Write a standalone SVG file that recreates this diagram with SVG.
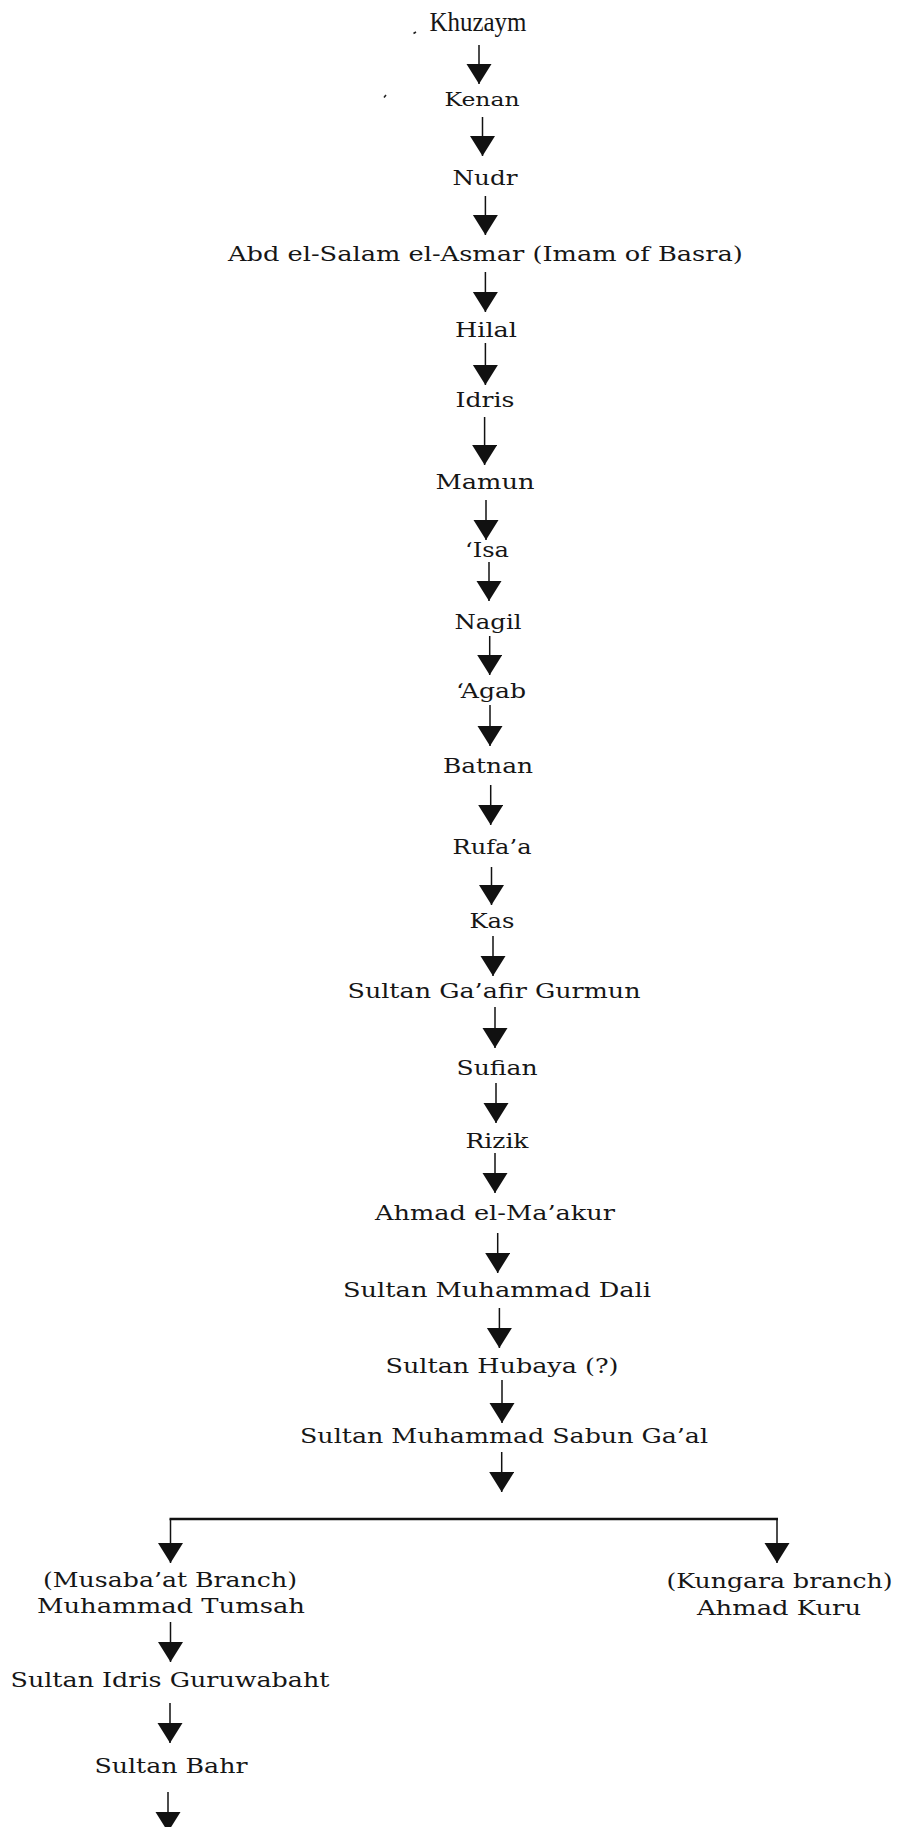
<svg xmlns="http://www.w3.org/2000/svg" width="897" height="1827" viewBox="0 0 897 1827">
<style>
.t{font-family:"DejaVu Serif","Liberation Serif",serif;font-size:21px;fill:#161616;text-anchor:middle}
.k{font-family:"Liberation Serif",serif;font-size:28px;fill:#161616;text-anchor:middle}
.c line{stroke:#111;stroke-width:1.5}
.c line.a{marker-end:url(#ah)}
</style>
<defs>
<marker id="ah" markerUnits="userSpaceOnUse" markerWidth="21" markerHeight="26" refX="20" refY="12.5" orient="auto">
<path d="M0,0 L20,12.5 L0,25 z" fill="#111"/>
</marker>
</defs>
<rect width="897" height="1827" fill="#fff"/>
<g id="connectors" class="c">
<line class="a" x1="479" y1="45" x2="479" y2="84"/>
<line class="a" x1="482.5" y1="117" x2="482.5" y2="156"/>
<line class="a" x1="485.4" y1="196" x2="485.4" y2="235"/>
<line class="a" x1="485.4" y1="272" x2="485.4" y2="312"/>
<line class="a" x1="485.4" y1="343" x2="485.4" y2="385"/>
<line class="a" x1="484.6" y1="417" x2="484.6" y2="465"/>
<line class="a" x1="486" y1="500" x2="486" y2="540"/>
<line class="a" x1="489" y1="562" x2="489" y2="601"/>
<line class="a" x1="489.7" y1="636" x2="489.7" y2="675"/>
<line class="a" x1="490" y1="705" x2="490" y2="746"/>
<line class="a" x1="490.7" y1="785" x2="490.7" y2="825"/>
<line class="a" x1="491.5" y1="867" x2="491.5" y2="905"/>
<line class="a" x1="493" y1="936" x2="493" y2="976"/>
<line class="a" x1="495" y1="1007" x2="495" y2="1048"/>
<line class="a" x1="496" y1="1083" x2="496" y2="1123"/>
<line class="a" x1="495" y1="1153" x2="495" y2="1193"/>
<line class="a" x1="497.7" y1="1233" x2="497.7" y2="1273"/>
<line class="a" x1="499.4" y1="1308" x2="499.4" y2="1348"/>
<line class="a" x1="502" y1="1380" x2="502" y2="1423"/>
<line class="a" x1="501.7" y1="1452" x2="501.7" y2="1492"/>
<line x1="169.5" y1="1519" x2="778" y2="1519" style="stroke-width:2.5"/>
<line class="a" x1="170.5" y1="1519" x2="170.5" y2="1563"/>
<line class="a" x1="777" y1="1519" x2="777" y2="1563"/>
<line class="a" x1="170.5" y1="1622" x2="170.5" y2="1662"/>
<line class="a" x1="170" y1="1703" x2="170" y2="1743"/>
<line class="a" x1="168" y1="1792" x2="168" y2="1832"/>
</g>
<path d="M413.5,33.5 l2.5,-1.5 M384,97.5 l2,-2.5" stroke="#222" stroke-width="1.6" fill="none"/>
<g id="n-khuzaym"><text class="k" x="478" y="31" textLength="97" lengthAdjust="spacingAndGlyphs">Khuzaym</text></g>
<g id="n-kenan"><text class="t" x="482" y="106" style="font-size:18.5px" textLength="75" lengthAdjust="spacingAndGlyphs">Kenan</text></g>
<g id="n-nudr"><text class="t" x="485" y="185" textLength="65" lengthAdjust="spacingAndGlyphs">Nudr</text></g>
<g id="n-abd"><text class="t" x="485.4" y="261" textLength="515" lengthAdjust="spacingAndGlyphs">Abd el-Salam el-Asmar (Imam of Basra)</text></g>
<g id="n-hilal"><text class="t" x="486" y="337" textLength="62" lengthAdjust="spacingAndGlyphs">Hilal</text></g>
<g id="n-idris"><text class="t" x="485" y="407" textLength="59" lengthAdjust="spacingAndGlyphs">Idris</text></g>
<g id="n-mamun"><text class="t" x="485" y="489" textLength="99" lengthAdjust="spacingAndGlyphs">Mamun</text></g>
<g id="n-isa"><text class="t" x="487" y="557" textLength="44" lengthAdjust="spacingAndGlyphs">‘Isa</text></g>
<g id="n-nagil"><text class="t" x="488" y="629" textLength="67" lengthAdjust="spacingAndGlyphs">Nagil</text></g>
<g id="n-agab"><text class="t" x="491" y="698" textLength="70" lengthAdjust="spacingAndGlyphs">‘Agab</text></g>
<g id="n-batnan"><text class="t" x="488" y="773" textLength="90" lengthAdjust="spacingAndGlyphs">Batnan</text></g>
<g id="n-rufaa"><text class="t" x="492" y="854" textLength="79" lengthAdjust="spacingAndGlyphs">Rufa’a</text></g>
<g id="n-kas"><text class="t" x="492" y="928" textLength="45" lengthAdjust="spacingAndGlyphs">Kas</text></g>
<g id="n-gaafir"><text class="t" x="494" y="998" textLength="293" lengthAdjust="spacingAndGlyphs">Sultan Ga’afir Gurmun</text></g>
<g id="n-sufian"><text class="t" x="497" y="1075" textLength="81" lengthAdjust="spacingAndGlyphs">Sufian</text></g>
<g id="n-rizik"><text class="t" x="497" y="1148" textLength="63" lengthAdjust="spacingAndGlyphs">Rizik</text></g>
<g id="n-ahmad"><text class="t" x="495" y="1220" textLength="240" lengthAdjust="spacingAndGlyphs">Ahmad el-Ma’akur</text></g>
<g id="n-dali"><text class="t" x="497" y="1297" textLength="308" lengthAdjust="spacingAndGlyphs">Sultan Muhammad Dali</text></g>
<g id="n-hubaya"><text class="t" x="502" y="1373" textLength="233" lengthAdjust="spacingAndGlyphs">Sultan Hubaya (?)</text></g>
<g id="n-sabun"><text class="t" x="504" y="1443" textLength="408" lengthAdjust="spacingAndGlyphs">Sultan Muhammad Sabun Ga’al</text></g>
<g id="n-tumsah">
<text class="t" x="170" y="1587" textLength="254" lengthAdjust="spacingAndGlyphs">(Musaba’at Branch)</text>
<text class="t" x="171" y="1613" textLength="268" lengthAdjust="spacingAndGlyphs">Muhammad Tumsah</text>
</g>
<g id="n-kuru">
<text class="t" x="779.5" y="1588" textLength="226" lengthAdjust="spacingAndGlyphs">(Kungara branch)</text>
<text class="t" x="779" y="1615" textLength="164" lengthAdjust="spacingAndGlyphs">Ahmad Kuru</text>
</g>
<g id="n-guruwabaht"><text class="t" x="170" y="1687" textLength="319" lengthAdjust="spacingAndGlyphs">Sultan Idris Guruwabaht</text></g>
<g id="n-bahr"><text class="t" x="171" y="1773" textLength="153" lengthAdjust="spacingAndGlyphs">Sultan Bahr</text></g>
</svg>
